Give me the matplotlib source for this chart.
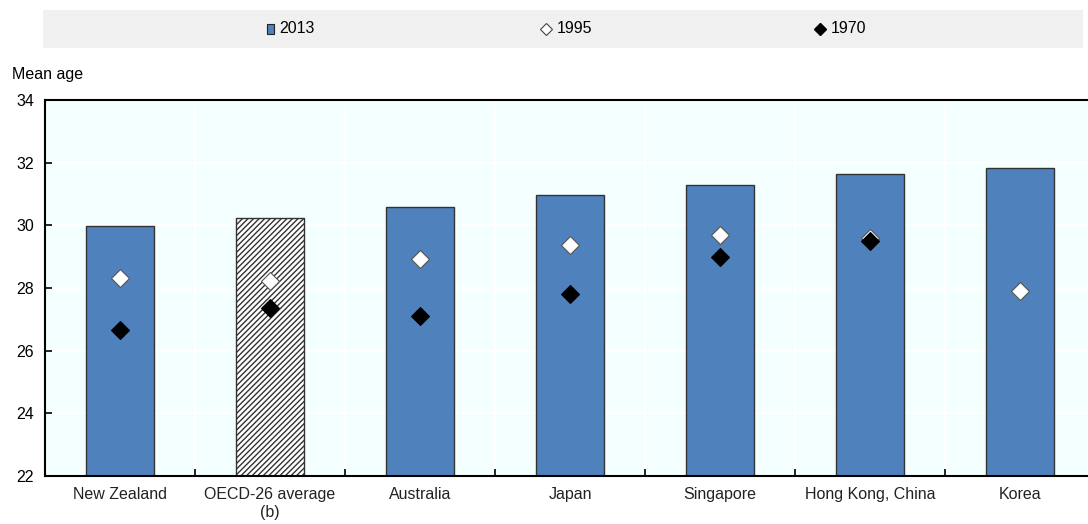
import matplotlib
matplotlib.use("Agg")
import matplotlib.pyplot as plt
import numpy as np
from matplotlib.patches import Rectangle

plt.rcParams['font.family'] = ['Liberation Sans', 'DejaVu Sans']
plt.rcParams['hatch.linewidth'] = 1.0

categories = ["New Zealand", "OECD-26 average\n(b)", "Australia", "Japan", "Singapore", "Hong Kong, China", "Korea"]
values_2013 = [29.97, 30.25, 30.6, 30.98, 31.3, 31.63, 31.83]
values_1995 = [28.32, 28.22, 28.93, 29.38, 29.7, 29.6, 27.9]
values_1970 = [26.65, 27.35, 27.1, 27.82, 29.0, 29.5, np.nan]
yticks = [22, 24, 26, 28, 30, 32, 34]

fig = plt.figure(figsize=(10.88, 5.24), dpi=100)
ax = fig.add_axes([0.0414, 0.0916, 0.965, 0.7175])
ax.set_facecolor("#F4FFFF")

x = np.arange(len(categories))
blue = "#4F81BD"
colors = [blue] * len(categories)
bars = ax.bar(x, [v - 22 for v in values_2013], bottom=22, width=0.45,
              color=colors, edgecolor="#333333", linewidth=1.0, zorder=2)
bars[1].set_facecolor("white")
bars[1].set_hatch("//////")
bars[1].set_edgecolor("#333333")

ax.plot(x, values_1995, linestyle="none", marker="D", markersize=9,
        markerfacecolor="white", markeredgecolor="#555555", markeredgewidth=0.8, zorder=3)
ax.plot(x, values_1970, linestyle="none", marker="D", markersize=9,
        markerfacecolor="black", markeredgecolor="black", markeredgewidth=0.8, zorder=4)

ax.set_xlim(-0.5, len(categories) - 0.5)
ax.set_ylim(22, 34)
ax.set_yticks(yticks)
ax.set_yticklabels([str(t) for t in yticks], fontsize=11.5)
ax.set_xticks(np.arange(-0.5, len(categories) + 0.5, 1.0), minor=False)
ax.set_xticklabels([])
ax.set_xticks(x, minor=True)
ax.set_xticklabels(categories, minor=True, fontsize=11.5, color="#222222")
ax.tick_params(axis="x", which="minor", length=0, pad=8)
ax.tick_params(axis="x", which="major", direction="in", length=5, width=1.2)
ax.tick_params(axis="y", direction="in", length=5, width=1.2, pad=8)
ax.grid(True, which="major", color="white", linewidth=1.5, zorder=0)
ax.set_axisbelow(True)
for s in ax.spines.values():
    s.set_linewidth(1.5)
    s.set_color("black")

fig.text(0.011, 0.857, "Mean age", fontsize=11.5, ha="left", va="center")

# Legend band
band = Rectangle((0.0395, 0.908), 0.956, 0.073, transform=fig.transFigure,
                 facecolor="#F0F0F0", edgecolor="none", zorder=0)
fig.patches.append(band)
ly = 0.945
fig.patches.append(Rectangle((0.2455, ly - 0.0095), 0.0065, 0.019, transform=fig.transFigure,
                             facecolor=blue, edgecolor="#222222", linewidth=0.8))
fig.text(0.2565, ly, "2013", fontsize=11.5, va="center", ha="left")
fig.lines.append(plt.Line2D([0.5015], [ly], transform=fig.transFigure, marker="D", markersize=6,
                            markerfacecolor="white", markeredgecolor="#444444", markeredgewidth=0.8))
fig.text(0.5115, ly, "1995", fontsize=11.5, va="center", ha="left")
fig.lines.append(plt.Line2D([0.7535], [ly], transform=fig.transFigure, marker="D", markersize=6,
                            markerfacecolor="black", markeredgecolor="black"))
fig.text(0.7635, ly, "1970", fontsize=11.5, va="center", ha="left")

fig.savefig("out.png", dpi=100)
